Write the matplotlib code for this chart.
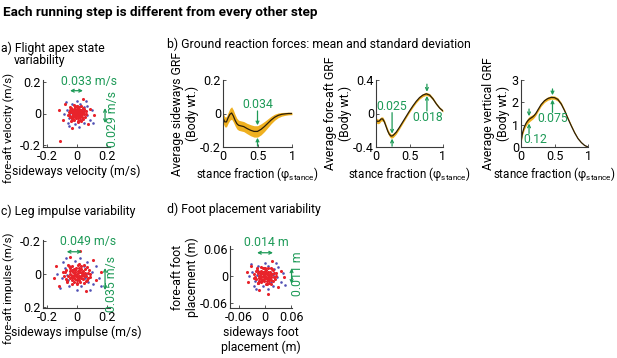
import numpy as np
import matplotlib
matplotlib.use("Agg")
import matplotlib.pyplot as plt

plt.rcParams['font.family'] = ['Roboto', 'DejaVu Sans']
plt.rcParams['mathtext.fontset'] = 'custom'
plt.rcParams['mathtext.rm'] = 'Roboto'
plt.rcParams['mathtext.it'] = 'Roboto:italic'

# ---------------- data ----------------
stance_x = [0, 0.025, 0.05, 0.075, 0.1, 0.125, 0.15, 0.175, 0.2, 0.225, 0.25, 0.3, 0.35,
            0.4, 0.45, 0.5, 0.55, 0.6, 0.65, 0.7, 0.75, 0.8, 0.85, 0.9, 0.95, 1.0]
side_mean = [-0.025, -0.05, -0.05, -0.025, -0.005, 0.003, -0.015, -0.04, -0.06, -0.07, -0.073,
             -0.078, -0.09, -0.1, -0.107, -0.107, -0.095, -0.078, -0.058, -0.038, -0.022,
             -0.011, -0.005, -0.002, 0.0, 0.0]
side_sd = [0.03, 0.03, 0.03, 0.032, 0.035, 0.037, 0.036, 0.034, 0.032, 0.03, 0.03, 0.03, 0.031,
           0.033, 0.034, 0.034, 0.033, 0.03, 0.026, 0.022, 0.018, 0.014, 0.011, 0.009, 0.008, 0.007]
fa_mean = [-0.08, -0.095, -0.09, -0.065, -0.065, -0.1, -0.155, -0.21, -0.25, -0.27, -0.265,
           -0.225, -0.165, -0.1, -0.035, 0.03, 0.09, 0.145, 0.19, 0.22, 0.235, 0.22, 0.175,
           0.115, 0.065, 0.03]
fa_sd = [0.03, 0.028, 0.027, 0.025, 0.024, 0.024, 0.025, 0.026, 0.026, 0.025, 0.025, 0.023,
         0.02, 0.018, 0.017, 0.017, 0.017, 0.017, 0.018, 0.018, 0.018, 0.018, 0.017, 0.015,
         0.013, 0.012]
vert_mean = [0.25, 0.66, 0.9, 1.06, 1.17, 1.25, 1.3, 1.35, 1.42, 1.52, 1.65, 1.9, 2.07, 2.17,
             2.22, 2.21, 2.13, 1.93, 1.63, 1.28, 0.95, 0.64, 0.38, 0.2, 0.07, 0.0]
vert_sd = [0.08, 0.1, 0.11, 0.12, 0.12, 0.12, 0.11, 0.1, 0.09, 0.085, 0.08, 0.075, 0.075, 0.075,
           0.075, 0.075, 0.075, 0.07, 0.065, 0.06, 0.055, 0.045, 0.035, 0.025, 0.015, 0.01]

# Flight apex velocity (m/s)
apex_red_x = [0.000, 0.010, -0.008, 0.015, -0.018, 0.004, -0.006, 0.022, -0.022, 0.018, -0.014,
              0.028, -0.028, 0.000, 0.010, -0.010, 0.032, -0.032, 0.020, -0.020, 0.006, -0.004,
              0.012, -0.012, 0.026, 0.048, -0.046, 0.042, -0.042, 0.058, -0.056, 0.000, 0.010,
              -0.020, 0.030, -0.038, 0.052, 0.088, -0.095, 0.072, -0.078, 0.040, -0.030, 0.115,
              -0.118, -0.110,
              0.005, -0.015, 0.024, -0.026, 0.014, -0.004, 0.030, -0.024, 0.008, -0.016, 0.018,
              -0.030, 0.002, 0.034, -0.008,
              0.040, -0.038, 0.035, -0.030, 0.015, -0.012, 0.020, -0.022, 0.045, -0.048, 0.050,
              -0.052, 0.005, -0.002, 0.038, -0.035, 0.030, -0.044, 0.060, -0.062]
apex_red_y = [0.000, 0.008, 0.005, -0.010, -0.008, 0.018, -0.018, 0.004, 0.014, 0.020, -0.024,
              -0.014, 0.000, 0.028, -0.028, 0.024, 0.010, -0.014, -0.024, 0.028, -0.006, 0.010,
              0.014, -0.004, 0.024, 0.018, -0.022, -0.034, 0.034, 0.000, 0.010, 0.048, -0.052,
              0.052, 0.044, -0.044, -0.020, 0.030, -0.040, -0.068, 0.058, 0.088, -0.088, -0.010,
              0.020, -0.170,
              -0.014, 0.018, -0.004, 0.006, -0.018, -0.030, 0.002, -0.020, 0.030, 0.012, 0.008,
              0.020, 0.012, -0.004, -0.010,
              0.010, 0.012, -0.025, -0.030, 0.040, 0.042, -0.040, -0.038, 0.030, 0.025, -0.005,
              -0.008, -0.045, 0.045, 0.035, -0.040, -0.045, 0.040, 0.015, -0.012]
apex_blue_x = [0.030, -0.040, 0.050, -0.055, 0.065, -0.068, 0.020, -0.010, 0.070, -0.060, 0.045,
               -0.035, 0.085, -0.088, 0.000, 0.015, 0.098, -0.075, 0.060, -0.050, 0.036, -0.030,
               0.042, -0.046, 0.108]
apex_blue_y = [-0.040, 0.030, 0.040, -0.030, -0.010, 0.020, 0.060, -0.064, 0.050, -0.058, -0.060,
               0.060, -0.040, 0.000, 0.078, -0.082, 0.020, 0.072, 0.078, -0.080, 0.020, -0.036,
               0.002, 0.004, -0.060]

# Leg impulse (m/s)
imp_red_x = [0.000, 0.014, -0.012, 0.022, -0.028, 0.006, -0.010, 0.034, -0.034, 0.026, -0.022,
             0.042, -0.044, 0.000, 0.016, -0.016, 0.048, -0.048, 0.030, -0.030, 0.008, -0.006,
             0.018, -0.018, 0.040, 0.072, -0.070, 0.064, -0.064, 0.088, -0.085, 0.000, 0.014,
             -0.030, 0.046, -0.058, 0.078, 0.130, -0.140, 0.108, -0.118, 0.060, -0.045, 0.160,
             -0.150, 0.020,
             0.008, -0.022, 0.036, -0.040, 0.020, -0.006, 0.045, -0.036, 0.012, -0.024, 0.027,
             -0.045, 0.003, 0.051, -0.012,
             0.060, -0.057, 0.052, -0.045, 0.022, -0.018, 0.030, -0.033, 0.068, -0.072, 0.075,
             -0.078, 0.008, -0.003, 0.057, -0.052, 0.045, -0.066, 0.090, -0.093]
imp_red_y = [0.000, 0.010, 0.006, -0.012, -0.010, 0.022, -0.022, 0.004, 0.016, 0.024, -0.028,
             -0.016, 0.000, 0.034, -0.034, 0.028, 0.012, -0.016, -0.028, 0.034, -0.006, 0.012,
             0.016, -0.004, 0.028, 0.022, -0.026, -0.040, 0.040, 0.000, 0.012, 0.058, -0.062,
             0.062, 0.052, -0.052, -0.024, 0.036, -0.048, -0.082, 0.070, 0.105, -0.105, -0.012,
             0.024, -0.140,
             -0.017, 0.022, -0.005, 0.007, -0.022, -0.036, 0.002, -0.024, 0.036, 0.014, 0.010,
             0.024, 0.014, -0.005, -0.012,
             0.012, 0.014, -0.030, -0.036, 0.048, 0.050, -0.048, -0.046, 0.036, 0.030, -0.006,
             -0.010, -0.054, 0.054, 0.042, -0.048, -0.054, 0.048, 0.018, -0.014]
imp_blue_x = [0.045, -0.060, 0.075, -0.082, 0.098, -0.102, 0.030, -0.015, 0.105, -0.090, 0.068,
              -0.052, 0.128, -0.132, 0.000, 0.022, 0.146, -0.112, 0.090, -0.075, 0.054, -0.045,
              0.063, -0.069, 0.160]
imp_blue_y = [-0.048, 0.036, 0.048, -0.036, -0.012, 0.024, 0.072, -0.076, 0.060, -0.070, -0.072,
              0.072, -0.048, 0.000, 0.094, -0.098, 0.024, 0.086, 0.094, -0.096, 0.024, -0.043,
              0.002, 0.005, 0.070]

# Foot placement (m)
foot_red_x = [0.000, 0.004, -0.003, 0.007, -0.008, 0.002, -0.003, 0.010, -0.010, 0.008, -0.006,
              0.012, -0.013, 0.000, 0.005, -0.005, 0.014, -0.014, 0.009, -0.009, 0.002, -0.002,
              0.005, -0.005, 0.012, 0.020, -0.020, 0.018, -0.018, 0.025, -0.024, 0.000, 0.004,
              -0.009, 0.013, -0.016, 0.022, 0.036, -0.038, 0.030, -0.032, 0.017, -0.013, 0.044,
              -0.042, 0.006,
              0.002, -0.006, 0.010, -0.011, 0.006, -0.002, 0.013, -0.010, 0.003, -0.007, 0.008,
              -0.013, 0.001, 0.015, -0.003,
              0.017, -0.016, 0.015, -0.013, 0.006, -0.005, 0.009, -0.009, 0.019, -0.020, 0.021,
              -0.022, 0.002, -0.001, 0.016, -0.015, 0.013, -0.019, 0.025, -0.026]
foot_red_y = [0.000, 0.003, 0.002, -0.004, -0.003, 0.007, -0.007, 0.001, 0.005, 0.008, -0.009,
              -0.005, 0.000, 0.011, -0.011, 0.009, 0.004, -0.005, -0.009, 0.011, -0.002, 0.004,
              0.005, -0.001, 0.009, 0.007, -0.008, -0.013, 0.013, 0.000, 0.004, 0.018, -0.019,
              0.019, 0.016, -0.016, -0.008, 0.011, -0.015, -0.025, 0.022, 0.032, -0.032, -0.004,
              0.008, -0.040,
              -0.005, 0.007, -0.002, 0.002, -0.007, -0.012, 0.001, -0.008, 0.012, 0.005, 0.003,
              0.008, 0.005, -0.002, -0.004,
              0.004, 0.005, -0.010, -0.012, 0.016, 0.017, -0.016, -0.015, 0.012, 0.010, -0.002,
              -0.003, -0.018, 0.018, 0.014, -0.016, -0.018, 0.016, 0.006, -0.005]
foot_blue_x = [0.013, -0.017, 0.021, -0.023, 0.027, -0.029, 0.008, -0.004, 0.030, -0.025, 0.019,
               -0.015, 0.036, -0.037, 0.000, 0.006, 0.041, -0.032, 0.025, -0.021, 0.015, -0.013,
               0.018, -0.019, 0.045]
foot_blue_y = [-0.015, 0.011, 0.015, -0.011, -0.004, 0.008, 0.022, -0.023, 0.019, -0.022, -0.022,
               0.022, -0.015, 0.000, 0.029, -0.030, 0.007, 0.027, 0.029, -0.030, 0.007, -0.013,
               0.001, 0.002, -0.020]

# ---------------- styling ----------------
GREEN = '#1D9A57'
RED = '#E8232B'
BLUE = '#5050B4'
BAND = '#EFB020'
LINE = '#2B1E08'
TICK_FS = 9
LAB_FS = 8.8
SUB_FS = 8.8
GRN_FS = 8.8

W, H = 617, 358
fig = plt.figure(figsize=(W / 100, H / 100), dpi=100)


def px_axes(x0, y0, x1, y1):
    return fig.add_axes([x0 / W, 1 - y1 / H, (x1 - x0) / W, (y1 - y0) / H])


def style(ax):
    for s in ['top', 'right']:
        ax.spines[s].set_visible(False)
    for s in ['left', 'bottom']:
        ax.spines[s].set_color('#3a3a3a')
        ax.spines[s].set_linewidth(0.8)
    ax.tick_params(direction='in', length=2.5, width=0.6, labelsize=TICK_FS, pad=1.5,
                   color='#3a3a3a')
    ax.tick_params(axis='x', pad=2.5)
    ax.patch.set_alpha(0)


def scatter_panel(ax, bx, by, rx, ry):
    ax.scatter(bx, by, s=3.5, c=BLUE, linewidths=0, marker='o')
    ax.scatter(rx, ry, s=5.0, c=RED, linewidths=0, marker='o')
    style(ax)


def green_text(ax, x, y, s, rot=0):
    ax.text(x, y, s, color=GREEN, fontsize=GRN_FS, ha='center', va='center',
            rotation=rot, clip_on=False)


def arrow(ax, x0, y0, x1, y1, style_='->'):
    ax.annotate('', xy=(x1, y1), xytext=(x0, y0),
                arrowprops=dict(arrowstyle=style_, color=GREEN, lw=0.9,
                                shrinkA=0, shrinkB=0, mutation_scale=5),
                annotation_clip=False)


# titles
fig.text(3 / W, 1 - 16 / H, 'Each running step is different from every other step',
         fontsize=9.7, fontweight='bold', va='baseline')
fig.text(1 / W, 1 - 52 / H, 'a) Flight apex state', fontsize=SUB_FS, va='baseline')
fig.text(14 / W, 1 - 64 / H, 'variability', fontsize=SUB_FS, va='baseline')
fig.text(167 / W, 1 - 48 / H, 'b) Ground reaction forces: mean and standard deviation',
         fontsize=SUB_FS, va='baseline')
fig.text(1 / W, 1 - 215 / H, 'c) Leg impulse variability', fontsize=SUB_FS, va='baseline')
fig.text(167 / W, 1 - 213 / H, 'd) Foot placement variability', fontsize=SUB_FS, va='baseline')

# ---- panel a
ax = px_axes(43, 80, 110, 147)
scatter_panel(ax, apex_blue_x, apex_blue_y, apex_red_x, apex_red_y)
ax.set_xlim(-0.226, 0.22)
ax.set_ylim(-0.21, 0.21)
ax.set_xticks([-0.2, 0, 0.2])
ax.set_xticklabels(['-0.2', '0', '0.2'])
ax.set_yticks([-0.2, 0, 0.2])
ax.set_yticklabels(['-0.2', '0', '0.2'])
ax.set_xlabel('sideways velocity (m/s)', fontsize=LAB_FS, labelpad=1)
ax.set_ylabel('fore-aft velocity (m/s)', fontsize=8.2)
ax.yaxis.set_label_coords(-0.42, 0.28)
green_text(ax, 0.08, 0.2, '0.033 m/s')
arrow(ax, -0.046, 0.143, 0.04, 0.143, '<->')
green_text(ax, 0.235, -0.035, '0.029 m/s', rot=90)
arrow(ax, 0.187, 0.034, 0.187, -0.06, '<->')

# ---- panel c
ax = px_axes(43, 240, 110, 308)
scatter_panel(ax, imp_blue_x, imp_blue_y, imp_red_x, imp_red_y)
ax.set_xlim(-0.226, 0.22)
ax.set_ylim(0.205, -0.205)
ax.set_xticks([-0.2, 0, 0.2])
ax.set_xticklabels(['-0.2', '0', '0.2'])
ax.set_yticks([-0.2, 0, 0.2])
ax.set_yticklabels(['-0.2', '0', '0.2'])
ax.set_xlabel('sideways impulse (m/s)', fontsize=LAB_FS, labelpad=1)
ax.set_ylabel('fore-aft impulse (m/s)', fontsize=8.2)
ax.yaxis.set_label_coords(-0.42, 0.29)
green_text(ax, 0.077, -0.195, '0.049 m/s')
arrow(ax, -0.068, -0.134, 0.032, -0.134, '<->')
green_text(ax, 0.228, 0.06, '0.035 m/s', rot=90)
arrow(ax, 0.187, -0.036, 0.187, 0.097, '<->')

# ---- panel d
ax = px_axes(230, 246, 292, 308)
scatter_panel(ax, foot_blue_x, foot_blue_y, foot_red_x, foot_red_y)
ax.set_xlim(-0.08, 0.062)
ax.set_ylim(-0.072, 0.066)
ax.set_xticks([-0.06, 0, 0.06])
ax.set_xticklabels(['-0.06', '0', '0.06'])
ax.set_yticks([-0.06, 0, 0.06])
ax.set_yticklabels(['-0.06', '0', '0.06'])
ax.set_xlabel('sideways foot\nplacement (m)', fontsize=LAB_FS, labelpad=1, linespacing=1.15)
ax.set_ylabel('fore-aft foot\nplacement (m)', fontsize=LAB_FS, labelpad=1, linespacing=1.15)
green_text(ax, 0.0024, 0.073, '0.014 m')
arrow(ax, -0.018, 0.051, 0.0185, 0.051, '<->')
green_text(ax, 0.075, 0.004, '0.011 m', rot=90)
arrow(ax, 0.061, 0.016, 0.061, -0.018, '<->')

# ---- GRF panels
xl = 'stance fraction (φ$_{\\mathrm{stance}}$)'


def grf_panel(x0, x1, mean, sd, ylim, yticks, yticklabels, ylabel):
    ax = px_axes(x0, 80, x1, 147)
    m = np.array(mean)
    s = np.array(sd)
    ax.fill_between(stance_x, m - s, m + s, color=BAND, linewidth=0)
    ax.plot(stance_x, mean, color=LINE, lw=0.9)
    ax.set_xlim(0, 1)
    ax.set_ylim(*ylim)
    ax.set_xticks([0, 0.5, 1])
    ax.set_xticklabels(['0', '0.5', '1'])
    ax.set_yticks(yticks)
    ax.set_yticklabels(yticklabels)
    ax.set_xlabel(xl, fontsize=8.4, labelpad=1)
    ax.set_ylabel(ylabel, fontsize=LAB_FS, labelpad=1, linespacing=1.15)
    style(ax)
    return ax


ax = grf_panel(223, 292, side_mean, side_sd, (-0.2, 0.2), [-0.2, 0, 0.2], ['-0.2', '0', '0.2'],
               'Average sideways GRF\n(Body wt.)')
green_text(ax, 0.5, 0.055, '0.034')
arrow(ax, 0.5, 0.015, 0.5, -0.07)
arrow(ax, 0.5, -0.195, 0.5, -0.145)

ax = grf_panel(376, 443, fa_mean, fa_sd, (-0.4, 0.4), [-0.4, 0, 0.4], ['-0.4', '0', '0.4'],
               'Average fore-aft GRF\n(Body wt.)')
green_text(ax, 0.24, 0.085, '0.025')
arrow(ax, 0.24, 0.01, 0.24, -0.24)
arrow(ax, 0.24, -0.39, 0.24, -0.30)
green_text(ax, 0.77, -0.05, '0.018')
arrow(ax, 0.76, 0.03, 0.76, 0.21)
arrow(ax, 0.76, 0.35, 0.76, 0.26)

ax = grf_panel(521, 588, vert_mean, vert_sd, (0, 3), [0, 1, 2, 3], ['0', '1', '2', '3'],
               'Average vertical GRF\n(Body wt.)')
ax.text(0.03, 0.33, '0.12', color=GREEN, fontsize=GRN_FS, ha='left', va='center')
arrow(ax, 0.12, 0.6, 0.12, 1.05)
arrow(ax, 0.12, 1.7, 0.12, 1.38)
green_text(ax, 0.48, 1.28, '0.075')
arrow(ax, 0.47, 1.55, 0.47, 2.12)
arrow(ax, 0.47, 2.6, 0.47, 2.32)

fig.savefig('out.png', dpi=100)
